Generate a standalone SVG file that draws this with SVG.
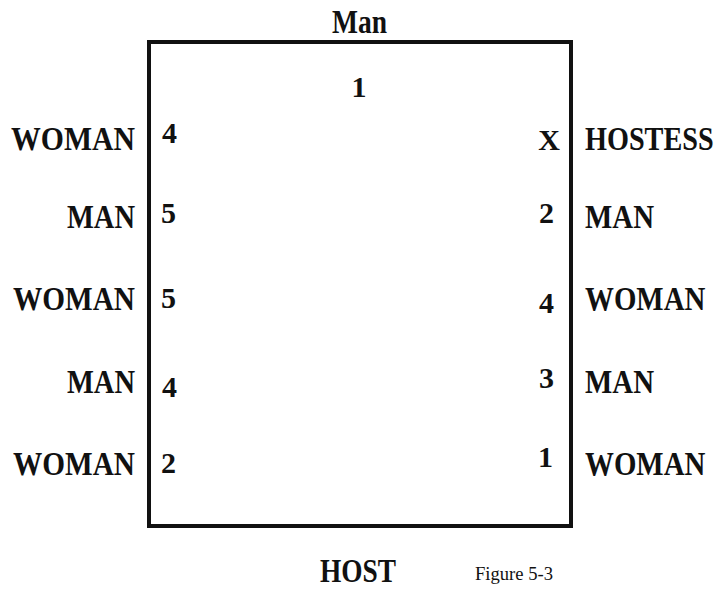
<svg xmlns="http://www.w3.org/2000/svg" width="721" height="590" viewBox="0 0 721 590">
<style>
.t{font-family:"Liberation Serif","Times New Roman",serif;font-weight:bold;font-size:34px;fill:#111}
.l{text-anchor:end}
.n{font-size:30px}
.f{font-weight:normal;font-size:18px}
</style>
<rect width="721" height="590" fill="#fff"/>
<g id="table"><rect x="149" y="42" width="422" height="484" fill="none" stroke="#111" stroke-width="4"/></g>
<g id="top"><text class="t" x="332" y="33" font-size="30" textLength="55" lengthAdjust="spacingAndGlyphs">Man</text><text class="t n" x="359" y="97" text-anchor="middle">1</text></g>
<g id="left">
<text class="t l" x="135" y="150" textLength="124" lengthAdjust="spacingAndGlyphs">WOMAN</text>
<text class="t l" x="135" y="228" textLength="68" lengthAdjust="spacingAndGlyphs">MAN</text>
<text class="t l" x="135" y="310" textLength="122" lengthAdjust="spacingAndGlyphs">WOMAN</text>
<text class="t l" x="135" y="393" textLength="68" lengthAdjust="spacingAndGlyphs">MAN</text>
<text class="t l" x="135" y="475" textLength="122" lengthAdjust="spacingAndGlyphs">WOMAN</text>
</g>
<g id="left-nums">
<text class="t n" x="162" y="143">4</text>
<text class="t n" x="161" y="223">5</text>
<text class="t n" x="161" y="308">5</text>
<text class="t n" x="162" y="397">4</text>
<text class="t n" x="161" y="473">2</text>
</g>
<g id="right-nums">
<text class="t n" x="560" y="150" text-anchor="end">X</text>
<text class="t n" x="554" y="223" text-anchor="end">2</text>
<text class="t n" x="554" y="313" text-anchor="end">4</text>
<text class="t n" x="554" y="388" text-anchor="end">3</text>
<text class="t n" x="553" y="467" text-anchor="end">1</text>
</g>
<g id="right">
<text class="t" transform="translate(585 150) scale(0.83 1)">HOSTESS</text>
<text class="t" transform="translate(585 228) scale(0.85 1)">MAN</text>
<text class="t" transform="translate(585 310) scale(0.85 1)">WOMAN</text>
<text class="t" transform="translate(585 393) scale(0.85 1)">MAN</text>
<text class="t" transform="translate(585 475) scale(0.85 1)">WOMAN</text>
</g>
<g id="bottom">
<text class="t" x="320" y="582" textLength="76" lengthAdjust="spacingAndGlyphs">HOST</text>
<text class="t f" x="475" y="580" textLength="78" lengthAdjust="spacingAndGlyphs">Figure 5-3</text>
</g>
</svg>
